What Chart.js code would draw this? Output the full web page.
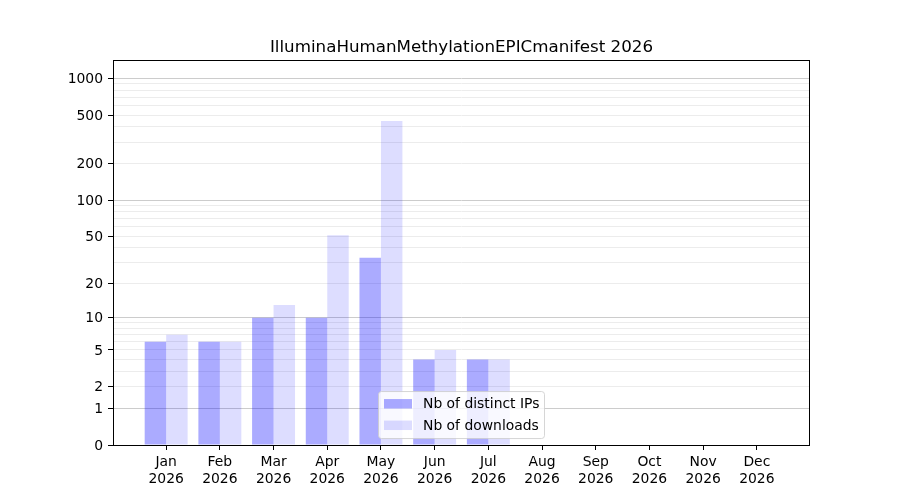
<!DOCTYPE html>
<html>
<head>
<meta charset="utf-8">
<script src="https://cdn.jsdelivr.net/npm/chart.js@4/dist/chart.umd.min.js"></script>
<style>
  html, body { margin: 0; padding: 0; background: #ffffff; }
  #wrap { width: 900px; height: 500px; }
</style>
</head>
<body>
<div id="wrap"><canvas id="c" width="900" height="500"></canvas></div>
<script>
// ---- data ----
const months = ['Jan', 'Feb', 'Mar', 'Apr', 'May', 'Jun', 'Jul', 'Aug', 'Sep', 'Oct', 'Nov', 'Dec'];
const year = '2026';
const distinctIPs = [6, 6, 10, 10, 33, 4, 4, 0, 0, 0, 0, 0];
const downloads   = [7, 6, 13, 51, 448, 5, 4, 0, 0, 0, 0, 0];
const yLabelTicks = [0, 1, 2, 5, 10, 20, 50, 100, 200, 500, 1000];
const yMajorTicks = [1, 10, 100, 1000];
const yMinorTicks = [2, 3, 4, 5, 6, 7, 8, 9, 20, 30, 40, 50, 60, 70, 80, 90, 200, 300, 400, 500, 600, 700, 800, 900];
const yRawMax = 1412;
const seriesNames = ['Nb of distinct IPs', 'Nb of downloads'];
const titleText = 'IlluminaHumanMethylationEPICmanifest 2026';

// ---- a log10(1 + x) scale ----
class Log1pScale extends Chart.LinearScale {
  determineDataLimits() {
    this.min = 0;
    this.max = Math.log10(1 + yRawMax);
  }
  buildTicks() {
    const vals = [0].concat(yMajorTicks, yMinorTicks).sort((a, b) => a - b);
    return vals.map(v => ({ value: v, major: yMajorTicks.includes(v) }));
  }
  getPixelForValue(v) {
    if (v === null || v === undefined || isNaN(v)) return NaN;
    return super.getPixelForValue(Math.log10(1 + v));
  }
  getValueForPixel(p) {
    return Math.pow(10, super.getValueForPixel(p)) - 1;
  }
}
Log1pScale.id = 'log1p';
Log1pScale.defaults = {};
Chart.register(Log1pScale);

Chart.defaults.font.family = 'DejaVu Sans';
Chart.defaults.font.size = 13.9;
Chart.defaults.color = '#000000';

const ipColor = 'rgba(0, 0, 255, 0.33)';
const dlColor = 'rgba(0, 0, 255, 0.135)';

const frame = {
  id: 'frame',
  afterDatasetsDraw(chart) {
    const { ctx, chartArea: a } = chart;
    ctx.save();
    ctx.strokeStyle = '#000000';
    ctx.lineWidth = 1;
    const l = Math.round(a.left) + 0.5, t = Math.round(a.top) + 0.5;
    const r = Math.round(a.right) - 0.5, b = Math.round(a.bottom) + 0.5;
    ctx.strokeRect(l, t, r - l, b - t);
    ctx.restore();
  }
};

const legendBox = {
  id: 'legendBox',
  afterDraw(chart) {
    const { ctx, chartArea: a } = chart;
    const x = a.left + 265.5, y = a.top + 331.5, w = 166, h = 47, rad = 3;
    ctx.save();
    ctx.beginPath();
    ctx.moveTo(x + rad, y);
    ctx.arcTo(x + w, y, x + w, y + h, rad);
    ctx.arcTo(x + w, y + h, x, y + h, rad);
    ctx.arcTo(x, y + h, x, y, rad);
    ctx.arcTo(x, y, x + w, y, rad);
    ctx.closePath();
    ctx.fillStyle = 'rgba(255,255,255,0.8)';
    ctx.fill();
    ctx.strokeStyle = 'rgba(204,204,204,0.8)';
    ctx.lineWidth = 1;
    ctx.stroke();
    const colors = [ipColor, dlColor];
    ctx.font = '13.9px "DejaVu Sans"';
    ctx.textBaseline = 'middle';
    ctx.textAlign = 'left';
    for (let i = 0; i < 2; i++) {
      const ry = y + 7.5 + i * 21.5;
      ctx.fillStyle = colors[i];
      ctx.fillRect(x + 5.5, ry, 28, 9.5);
      ctx.fillStyle = '#000000';
      ctx.fillText(seriesNames[i], x + 44.5, ry + 5.5);
    }
    ctx.restore();
  }
};

new Chart(document.getElementById('c'), {
  type: 'bar',
  data: {
    datasets: [
      { label: seriesNames[0], data: months.map((m, i) => ({ x: i, y: distinctIPs[i] })),
        backgroundColor: ipColor, borderWidth: 0, categoryPercentage: 0.8, barPercentage: 1.0 },
      { label: seriesNames[1], data: months.map((m, i) => ({ x: i, y: downloads[i] })),
        backgroundColor: dlColor, borderWidth: 0, categoryPercentage: 0.8, barPercentage: 1.0 }
    ]
  },
  options: {
    responsive: false,
    animation: false,
    devicePixelRatio: 1,
    layout: { padding: { left: 0, right: 90, top: 0, bottom: 0 } },
    plugins: {
      legend: { display: false },
      tooltip: { enabled: false },
      title: {
        display: true, text: titleText, fullSize: false, color: '#000000',
        font: { size: 16.7, weight: 'normal', family: 'DejaVu Sans' },
        padding: { top: 38, bottom: 2 }
      }
    },
    scales: {
      x: {
        type: 'linear', min: -0.99, max: 11.99, offset: false,
        grid: { display: true, drawOnChartArea: false, drawTicks: true, tickLength: 5, tickColor: '#000000', offset: false },
        border: { display: false },
        afterBuildTicks(scale) { scale.ticks = months.map((m, i) => ({ value: i })); },
        afterFit(scale) { scale.height = 55; },
        ticks: {
          autoSkip: false, maxRotation: 0, padding: 4, color: '#000000',
          font: { size: 13.9, lineHeight: 1.2 },
          callback: (v) => [months[v], year]
        }
      },
      y: {
        type: 'log1p',
        grid: {
          display: true, drawOnChartArea: true, drawTicks: true, tickLength: 5, lineWidth: 1,
          color: (c) => {
            const v = c.tick && c.tick.value;
            if (v === 0) return 'rgba(0,0,0,0)';
            return yMajorTicks.includes(v) ? '#cccccc' : '#ececec';
          },
          tickColor: (c) => (c.tick && yLabelTicks.includes(c.tick.value)) ? '#000000' : 'rgba(0,0,0,0)'
        },
        border: { display: false },
        afterFit(scale) { scale.width = 113; },
        ticks: {
          autoSkip: false, padding: 5, color: '#000000', labelOffset: 1,
          font: { size: 13.9 },
          callback: (v) => yLabelTicks.includes(v) ? String(v) : ''
        }
      }
    }
  },
  plugins: [frame, legendBox]
});
</script>
</body>
</html>
